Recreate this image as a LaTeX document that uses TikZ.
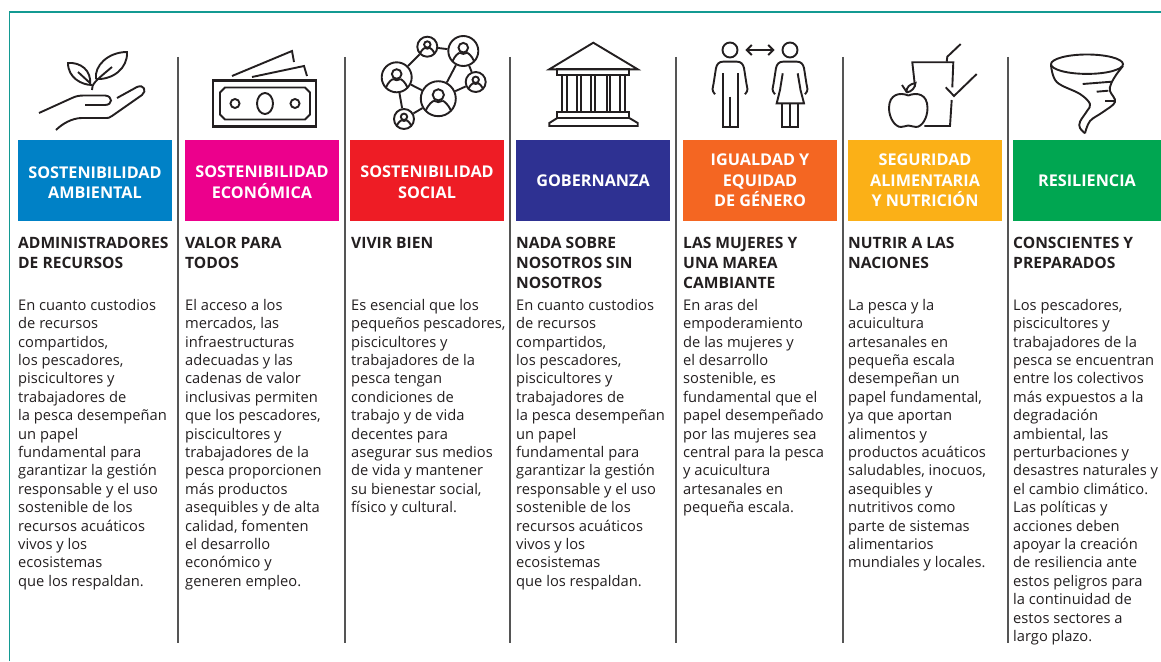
\documentclass[tikz,border=0pt]{standalone}
\usepackage{fontspec}
\setmainfont{Open Sans}
\usepackage{xcolor}
\usetikzlibrary{arrows.meta}

\definecolor{frameteal}{HTML}{139A92}
\definecolor{sepgray}{HTML}{555555}
\definecolor{inkdark}{HTML}{231F20}
\definecolor{boxblue}{HTML}{0081C6}
\definecolor{boxpink}{HTML}{EC008C}
\definecolor{boxred}{HTML}{EE1C25}
\definecolor{boxnavy}{HTML}{2E3192}
\definecolor{boxorange}{HTML}{F46622}
\definecolor{boxyellow}{HTML}{FBB017}
\definecolor{boxgreen}{HTML}{00A651}

\newcommand{\lowerline}{\rule{0pt}{15.6pt}}

\newcommand{\netperson}[2]{
 \draw [icon, shift={(#1)}, scale=#2] (0,-0.22) circle [radius=0.32];
 \draw [icon, shift={(#1)}, scale=#2] (-0.72,0.68) .. controls (-0.55,0.3) and (-0.35,0.16) .. (-0.25,0.12) (0.25,0.12) .. controls (0.35,0.16) and (0.55,0.3) .. (0.72,0.68);
 \draw [icon, shift={(#1)}, scale=#2] (-0.25,0.12) .. controls (-0.1,0.22) and (0.1,0.22) .. (0.25,0.12);
}

\begin{document}
\begin{tikzpicture}[x=1pt, y=-1pt,
  icon/.style={line width=1.9pt, draw=inkdark, line join=miter},
  netdot/.style={circle, draw=inkdark, line width=1.9pt, inner sep=0pt},
  sepline/.style={line width=1.1pt, draw=sepgray},
  colorbox/.style={minimum height=81pt, inner sep=0pt, text=white, align=center,
    font=\fontsize{16.2}{20.5}\selectfont\bfseries},
  headtext/.style={anchor=north west, inner sep=0pt, align=left, text=inkdark,
    font=\fontsize{15.6}{20}\selectfont\bfseries},
  bodytext/.style={anchor=north west, inner sep=0pt, align=left, text=inkdark,
    font=\fontsize{14.7}{18.4}\selectfont}]

 \useasboundingbox (0,0) rectangle (1161,661);

 \draw [frameteal, line width=1.2pt] (9.5,661) -- (9.5,12) -- (1161,12);

 \draw [sepline] (178,57) -- (178,643);
 \draw [sepline] (345,57) -- (345,643);
 \draw [sepline] (510,57) -- (510,643);
 \draw [sepline] (676,57) -- (676,643);
 \draw [sepline] (843,57) -- (843,643);
 \draw [sepline] (1008,57) -- (1008,643);

 \node (box_ambiental) [colorbox, fill=boxblue, minimum width=154pt] at (95,180.5)
     {\lowerline SOSTENIBILIDAD\\AMBIENTAL};

 \node (box_economica) [colorbox, fill=boxpink, minimum width=154pt] at (262,180.5)
     {\lowerline SOSTENIBILIDAD\\ECONÓMICA};

 \node (box_social) [colorbox, fill=boxred, minimum width=154pt] at (427,180.5)
     {\lowerline SOSTENIBILIDAD\\SOCIAL};

 \node (box_gobernanza) [colorbox, fill=boxnavy, minimum width=154pt] at (593,180.5)
     {GOBERNANZA};

 \node (box_igualdad) [colorbox, fill=boxorange, minimum width=154pt] at (760,180.5)
     {IGUALDAD Y\\EQUIDAD\\DE GÉNERO};

 \node (box_seguridad) [colorbox, fill=boxyellow, minimum width=154pt] at (925,180.5)
     {SEGURIDAD\\ALIMENTARIA\\Y NUTRICIÓN};

 \node (box_resiliencia) [colorbox, fill=boxgreen, minimum width=148pt] at (1087,180.5)
     {RESILIENCIA};


 \node (head_ambiental) [headtext] at (18,237)
     {ADMINISTRADORES\\DE RECURSOS};

 \node (head_economica) [headtext] at (185,237)
     {VALOR PARA\\TODOS};

 \node (head_social) [headtext] at (351,237)
     {VIVIR BIEN};

 \node (head_gobernanza) [headtext] at (516,237)
     {NADA SOBRE\\NOSOTROS SIN\\NOSOTROS};

 \node (head_igualdad) [headtext] at (683,237)
     {LAS MUJERES Y\\UNA MAREA\\CAMBIANTE};

 \node (head_seguridad) [headtext] at (848,237)
     {NUTRIR A LAS\\NACIONES};

 \node (head_resiliencia) [headtext] at (1013,237)
     {CONSCIENTES Y\\PREPARADOS};


 \node (body_ambiental) [bodytext] at (18,299)
     {En cuanto custodios\\de recursos\\compartidos,\\los pescadores,\\piscicultores y\\trabajadores de\\la pesca desempeñan\\un papel\\fundamental para\\garantizar la gestión\\responsable y el uso\\sostenible de los\\recursos acuáticos\\vivos y los\\ecosistemas\\que los respaldan.};

 \node (body_economica) [bodytext] at (185,299)
     {El acceso a los\\mercados, las\\infraestructuras\\adecuadas y las\\cadenas de valor\\inclusivas permiten\\que los pescadores,\\piscicultores y\\trabajadores de la\\pesca proporcionen\\más productos\\asequibles y de alta\\calidad, fomenten\\el desarrollo\\económico y\\generen empleo.};

 \node (body_social) [bodytext] at (351,299)
     {Es esencial que los\\pequeños pescadores,\\piscicultores y\\trabajadores de la\\pesca tengan\\condiciones de\\trabajo y de vida\\decentes para\\asegurar sus medios\\de vida y mantener\\su bienestar social,\\físico y cultural.};

 \node (body_gobernanza) [bodytext] at (516,299)
     {En cuanto custodios\\de recursos\\compartidos,\\los pescadores,\\piscicultores y\\trabajadores de\\la pesca desempeñan\\un papel\\fundamental para\\garantizar la gestión\\responsable y el uso\\sostenible de los\\recursos acuáticos\\vivos y los\\ecosistemas\\que los respaldan.};

 \node (body_igualdad) [bodytext] at (683,299)
     {En aras del\\empoderamiento\\de las mujeres y\\el desarrollo\\sostenible, es\\fundamental que el\\papel desempeñado\\por las mujeres sea\\central para la pesca\\y acuicultura\\artesanales en\\pequeña escala.};

 \node (body_seguridad) [bodytext] at (848,299)
     {La pesca y la\\acuicultura\\artesanales en\\pequeña escala\\desempeñan un\\papel fundamental,\\ya que aportan\\alimentos y\\productos acuáticos\\saludables, inocuos,\\asequibles y\\nutritivos como\\parte de sistemas\\alimentarios\\mundiales y locales.};

 \node (body_resiliencia) [bodytext] at (1013,299)
     {Los pescadores,\\piscicultores y\\trabajadores de la\\pesca se encuentran\\entre los colectivos\\más expuestos a la\\degradación\\ambiental, las\\perturbaciones y\\desastres naturales y\\el cambio climático.\\Las políticas y\\acciones deben\\apoyar la creación\\de resiliencia ante\\estos peligros para\\la continuidad de\\estos sectores a\\largo plazo.};


 % plant in the hand
 \draw [icon] (92,85) .. controls (82,85) and (68,78) .. (68,63) .. controls (80,62) and (92,70) .. (90,85);
 \draw [icon] (90,83) -- (78,72);
 \draw [icon] (96,79) .. controls (94,66) and (108,52) .. (127,52) .. controls (128,68) and (113,80) .. (96,79);
 \draw [icon] (92,90) .. controls (92,84) and (94,82) .. (112,67);
 \draw [icon] (39,113) -- (72,98) .. controls (76,96) and (80,95.5) .. (84,95.5) -- (105,95.5) .. controls (113,96) and (113,105) .. (105,105) -- (85,105);
 \draw [icon] (117,98) -- (137,87) .. controls (144,84) and (147,91) .. (142,95) -- (112,116) .. controls (110,118) and (108,118) .. (104,118) -- (82,118) .. controls (72,118) and (62,124) .. (56,130);

 % banknotes
 \draw [icon, line width=2.4pt] (213,80.5) rectangle (316,126.5);
 \draw [icon] (225,87.5) -- (305,87.5) -- (310,92.5) -- (310,114.5) -- (305,119.5) -- (225,119.5) -- (220,114.5) -- (220,92.5) -- cycle;
 \draw [icon] (265,103.5) ellipse [x radius=8, y radius=10.5];
 \draw [icon] (235,103.5) circle [radius=4.5];
 \draw [icon] (295,103.5) circle [radius=4.5];
 \draw [icon] (232,76) -- (292,51) -- (294,62);
 \draw [icon] (252,77) -- (304,66) -- (307,76);

 % network of people
 \node (net_top) [netdot, minimum size=20pt] at (427.3,46.7) {};
 \node (net_big) [netdot, minimum size=30pt] at (463.3,51) {};
 \node (net_left) [netdot, minimum size=30pt] at (396.7,77.3) {};
 \node (net_right) [netdot, minimum size=20pt] at (475.7,82) {};
 \node (net_mid) [netdot, minimum size=35pt] at (438.3,98.7) {};
 \node (net_low) [netdot, minimum size=20pt] at (404,119) {};

 \draw [icon] (net_top) -- (net_big);
 \draw [icon] (net_left) -- (net_top);
 \draw [icon] (net_left) -- (net_mid);
 \draw [icon] (net_left) -- (net_low);
 \draw [icon] (net_low) -- (net_mid);
 \draw [icon] (net_mid) -- (net_big);
 \draw [icon] (net_mid) -- (net_right);
 \draw [icon] (net_big) -- (net_right);

 \netperson{net_top}{10}
 \netperson{net_big}{15}
 \netperson{net_left}{15}
 \netperson{net_right}{10}
 \netperson{net_mid}{17.5}
 \netperson{net_low}{10}

 % temple
 \draw [icon] (549.3,69.3) -- (593.3,42.7) -- (637.7,69.3) -- cycle;
 \draw [icon] (557.3,69.3) rectangle (629.3,75);
 \draw [icon] (561.7,75) -- (561.7,112) (567.3,75) -- (567.3,112)
   (577.3,75) -- (577.3,112) (580.7,75) -- (580.7,112)
   (590.7,75) -- (590.7,112) (595,75) -- (595,112)
   (606.7,75) -- (606.7,112) (610,75) -- (610,112)
   (620,75) -- (620,112) (625,75) -- (625,112);
 \draw [icon] (557.3,112) rectangle (629.3,118);
 \draw [icon] (557.3,118) -- (549.3,123) -- (549.3,126) -- (637.7,126) -- (637.7,123) -- (629.3,118);

 % man and woman
 \node (man_head) [netdot, minimum size=15pt] at (730,50) {};
 \node (woman_head) [netdot, minimum size=15pt] at (790,50) {};
 \draw [icon, {Straight Barb[length=5pt,width=10pt]}-{Straight Barb[length=5pt,width=10pt]}, shorten <=7pt, shorten >=7pt] (man_head) -- (woman_head);

 \draw [icon] (715,94.3) .. controls (711,90) and (713,88) .. (713.5,84) -- (716,68) .. controls (717,64) and (719,61.7) .. (723,61.7) -- (737,61.7) .. controls (741,61.7) and (743,64) .. (744,68) -- (746.5,84) .. controls (747,88) and (749,90) .. (745,94.3);
 \draw [icon] (722.7,73.3) -- (722.7,126.7) -- (738.3,126.7) -- (738.3,73.3);
 \draw [icon] (730,96.7) -- (730,126.7);

 \draw [icon] (775,94.3) .. controls (771,90) and (773,88) .. (773.5,84) -- (776,68) .. controls (777,64) and (779,61.7) .. (783,61.7) -- (797,61.7) .. controls (801,61.7) and (803,64) .. (804,68) -- (806.5,84) .. controls (807,88) and (809,90) .. (805,94.3);
 \draw [icon] (782.7,73.3) -- (780,90) -- (776.7,103.3) -- (804,103.3) -- (800.5,90) -- (797.7,73.3);
 \draw [icon] (782.3,103.3) -- (782.3,126.7) -- (798.3,126.7) -- (798.3,103.3);
 \draw [icon] (790,103.3) -- (790,126.7);

 % apple and cup
 \draw [icon] (915,86.7) -- (912.3,62.3) -- (953.3,62.3) -- (952.3,87.3);
 \draw [icon] (951.7,100) -- (950,126) -- (924.3,126);
 \draw [icon] (946.7,61.7) -- (947.3,56.7) -- (960.7,44);
 \draw [icon] (945.7,87.3) -- (954,96) -- (976.7,74);
 \draw [icon] (908.3,95.5) .. controls (900,92) and (889,94) .. (889,108) .. controls (889,118) and (895,127) .. (901,127) .. controls (904,127) and (906,125.5) .. (908.3,125.5) .. controls (911,125.5) and (913,127) .. (916,127) .. controls (922,127) and (927.5,118) .. (927.5,108) .. controls (927.5,94) and (917,92) .. (908.3,95.5);
 \draw [icon] (907,92.5) -- (902,85);
 \draw [icon] (906.5,92.5) .. controls (906,87) and (910,84) .. (915.5,83) .. controls (915,88) and (912,91.5) .. (906.5,92.5);

 % tornado
 \draw [icon] (1087,64.2) ellipse [x radius=36, y radius=9.7];
 \draw [icon] plot [smooth, tension=0.6] coordinates {(1051,65) (1056.7,82) (1080,94) (1090,104) (1087,111) (1080,121.7) (1080,128) (1085,133.3)};
 \draw [icon] plot [smooth, tension=0.6] coordinates {(1123,66) (1116,75) (1111,84) (1110,91) (1115,102) (1103,112) (1090,121) (1085,133.3)};
 \draw [icon] (1082.7,84) -- (1111.7,81.7);
 \draw [icon] (1096.7,91.7) -- (1108.3,90.7);
 \draw [icon] (1105,100.7) -- (1115,100.7);

\end{tikzpicture}
\end{document}
